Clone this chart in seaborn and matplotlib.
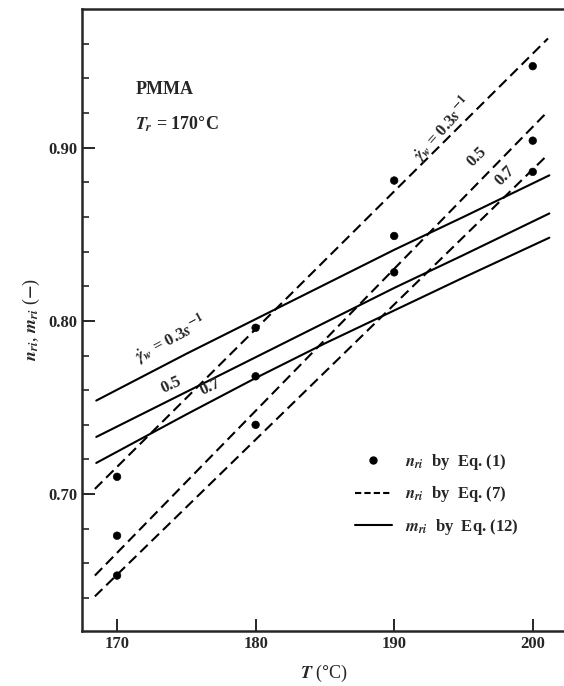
import numpy as np
import pandas as pd
import matplotlib
matplotlib.use("Agg")
import matplotlib.pyplot as plt
import seaborn as sns
from matplotlib.lines import Line2D

## Data
shear_rates = ["0.3", "0.5", "0.7"]

# n_ri by Eq.(1): measured points
T_pts = [170, 180, 190, 200]
n_eq1_03 = [0.710, 0.796, 0.881, 0.947]
n_eq1_05 = [0.676, 0.768, 0.849, 0.904]
n_eq1_07 = [0.653, 0.740, 0.828, 0.886]

# n_ri by Eq.(7): straight dashed lines (end points)
T_dash = [168.4, 201.1]
n_eq7_03 = [0.703, 0.963]
n_eq7_05 = [0.653, 0.921]
n_eq7_07 = [0.641, 0.896]

# m_ri by Eq.(12): solid curves
T_solid = [168.5, 175, 180, 185, 190, 195, 201.2]
m_eq12_03 = [0.754, 0.781, 0.801, 0.821, 0.841, 0.860, 0.884]
m_eq12_05 = [0.733, 0.759, 0.779, 0.799, 0.819, 0.838, 0.862]
m_eq12_07 = [0.718, 0.746, 0.767, 0.787, 0.806, 0.825, 0.848]

pts = pd.DataFrame({
    "T": T_pts * 3,
    "n": n_eq1_03 + n_eq1_05 + n_eq1_07,
    "rate": np.repeat(shear_rates, len(T_pts)),
})
dash = pd.DataFrame({
    "T": T_dash * 3,
    "n": n_eq7_03 + n_eq7_05 + n_eq7_07,
    "rate": np.repeat(shear_rates, len(T_dash)),
})
solid = pd.DataFrame({
    "T": T_solid * 3,
    "m": m_eq12_03 + m_eq12_05 + m_eq12_07,
    "rate": np.repeat(shear_rates, len(T_solid)),
})

## Plot
sns.set_style("ticks")
plt.rcParams["font.family"] = ["Liberation Serif", "DejaVu Serif"]
plt.rcParams["mathtext.fontset"] = "stix"
plt.rcParams["font.weight"] = "bold"

fig = plt.figure(figsize=(5.64, 6.86), dpi=100)
ax = fig.add_axes([82 / 564, 55 / 686, 484 / 564, 622 / 686])

black = {r: "black" for r in shear_rates}
sns.lineplot(data=dash, x="T", y="n", hue="rate", palette=black, ax=ax,
             legend=False, linewidth=1.5, dashes=False, sort=True)
for l in ax.lines:
    l.set_dashes((5, 2.6))
sns.lineplot(data=solid, x="T", y="m", hue="rate", palette=black, ax=ax,
             legend=False, linewidth=1.5)
sns.scatterplot(data=pts, x="T", y="n", hue="rate", palette=black, ax=ax,
                legend=False, s=30, edgecolor="black", zorder=5)

ax.set_xlim(167.47, 202.4)
ax.set_ylim(0.621, 0.98)
ax.set_xticks([170, 180, 190, 200])
ax.set_yticks([0.70, 0.80, 0.90])
ax.set_yticklabels(["0.70", "0.80", "0.90"])
ax.set_yticks(np.arange(0.64, 0.97, 0.02), minor=True)
ax.tick_params(axis="both", which="major", direction="in", length=9, width=1.4,
               labelsize=12)
ax.tick_params(axis="y", which="minor", direction="in", length=5, width=1.2)
for s in ax.spines.values():
    s.set_linewidth(1.8)

ax.set_xlabel(r"$T$ ($\degree$C)", fontsize=13, labelpad=8)
ax.set_ylabel(r"$n_{ri}$, $m_{ri}$ ($-$)", fontsize=13, labelpad=4)

# annotations
ax.text(0.11, 0.864, "PMMA", transform=ax.transAxes, fontsize=13,
        fontweight="bold")
ax.text(0.11, 0.806, r"$T_r$ = 170$\degree$C", transform=ax.transAxes,
        fontsize=13)

def px(x, y):
    return fig.transFigure.inverted().transform((x, 686 - y))

kw = dict(transform=fig.transFigure, ha="center", va="center", fontsize=12)
fig.text(*px(443, 130), r"$\dot{\gamma}_w$ = 0.3$s^{-1}$", rotation=48, **kw)
fig.text(*px(477, 157), "0.5", rotation=45, **kw)
fig.text(*px(505, 176), "0.7", rotation=45, **kw)
fig.text(*px(171, 340), r"$\dot{\gamma}_w$ = 0.3$s^{-1}$", rotation=28, **kw)
fig.text(*px(171, 385), "0.5", rotation=25, **kw)
fig.text(*px(210, 387), "0.7", rotation=25, **kw)

handles = [
    Line2D([], [], marker="o", color="black", linestyle="none", markersize=5),
    Line2D([], [], color="black", linewidth=1.5, dashes=(3, 1.5)),
    Line2D([], [], color="black", linewidth=1.5),
]
labels = [r"$n_{ri}$  by  Eq. (1)", r"$n_{ri}$  by  Eq. (7)",
          r"$m_{ri}$  by  Eq. (12)"]
ax.legend(handles, labels, loc="upper left", bbox_to_anchor=(0.533, 0.312),
          frameon=False, fontsize=12, handlelength=2.2, labelspacing=0.75,
          handletextpad=0.8)

fig.savefig("out.png", dpi=100)
